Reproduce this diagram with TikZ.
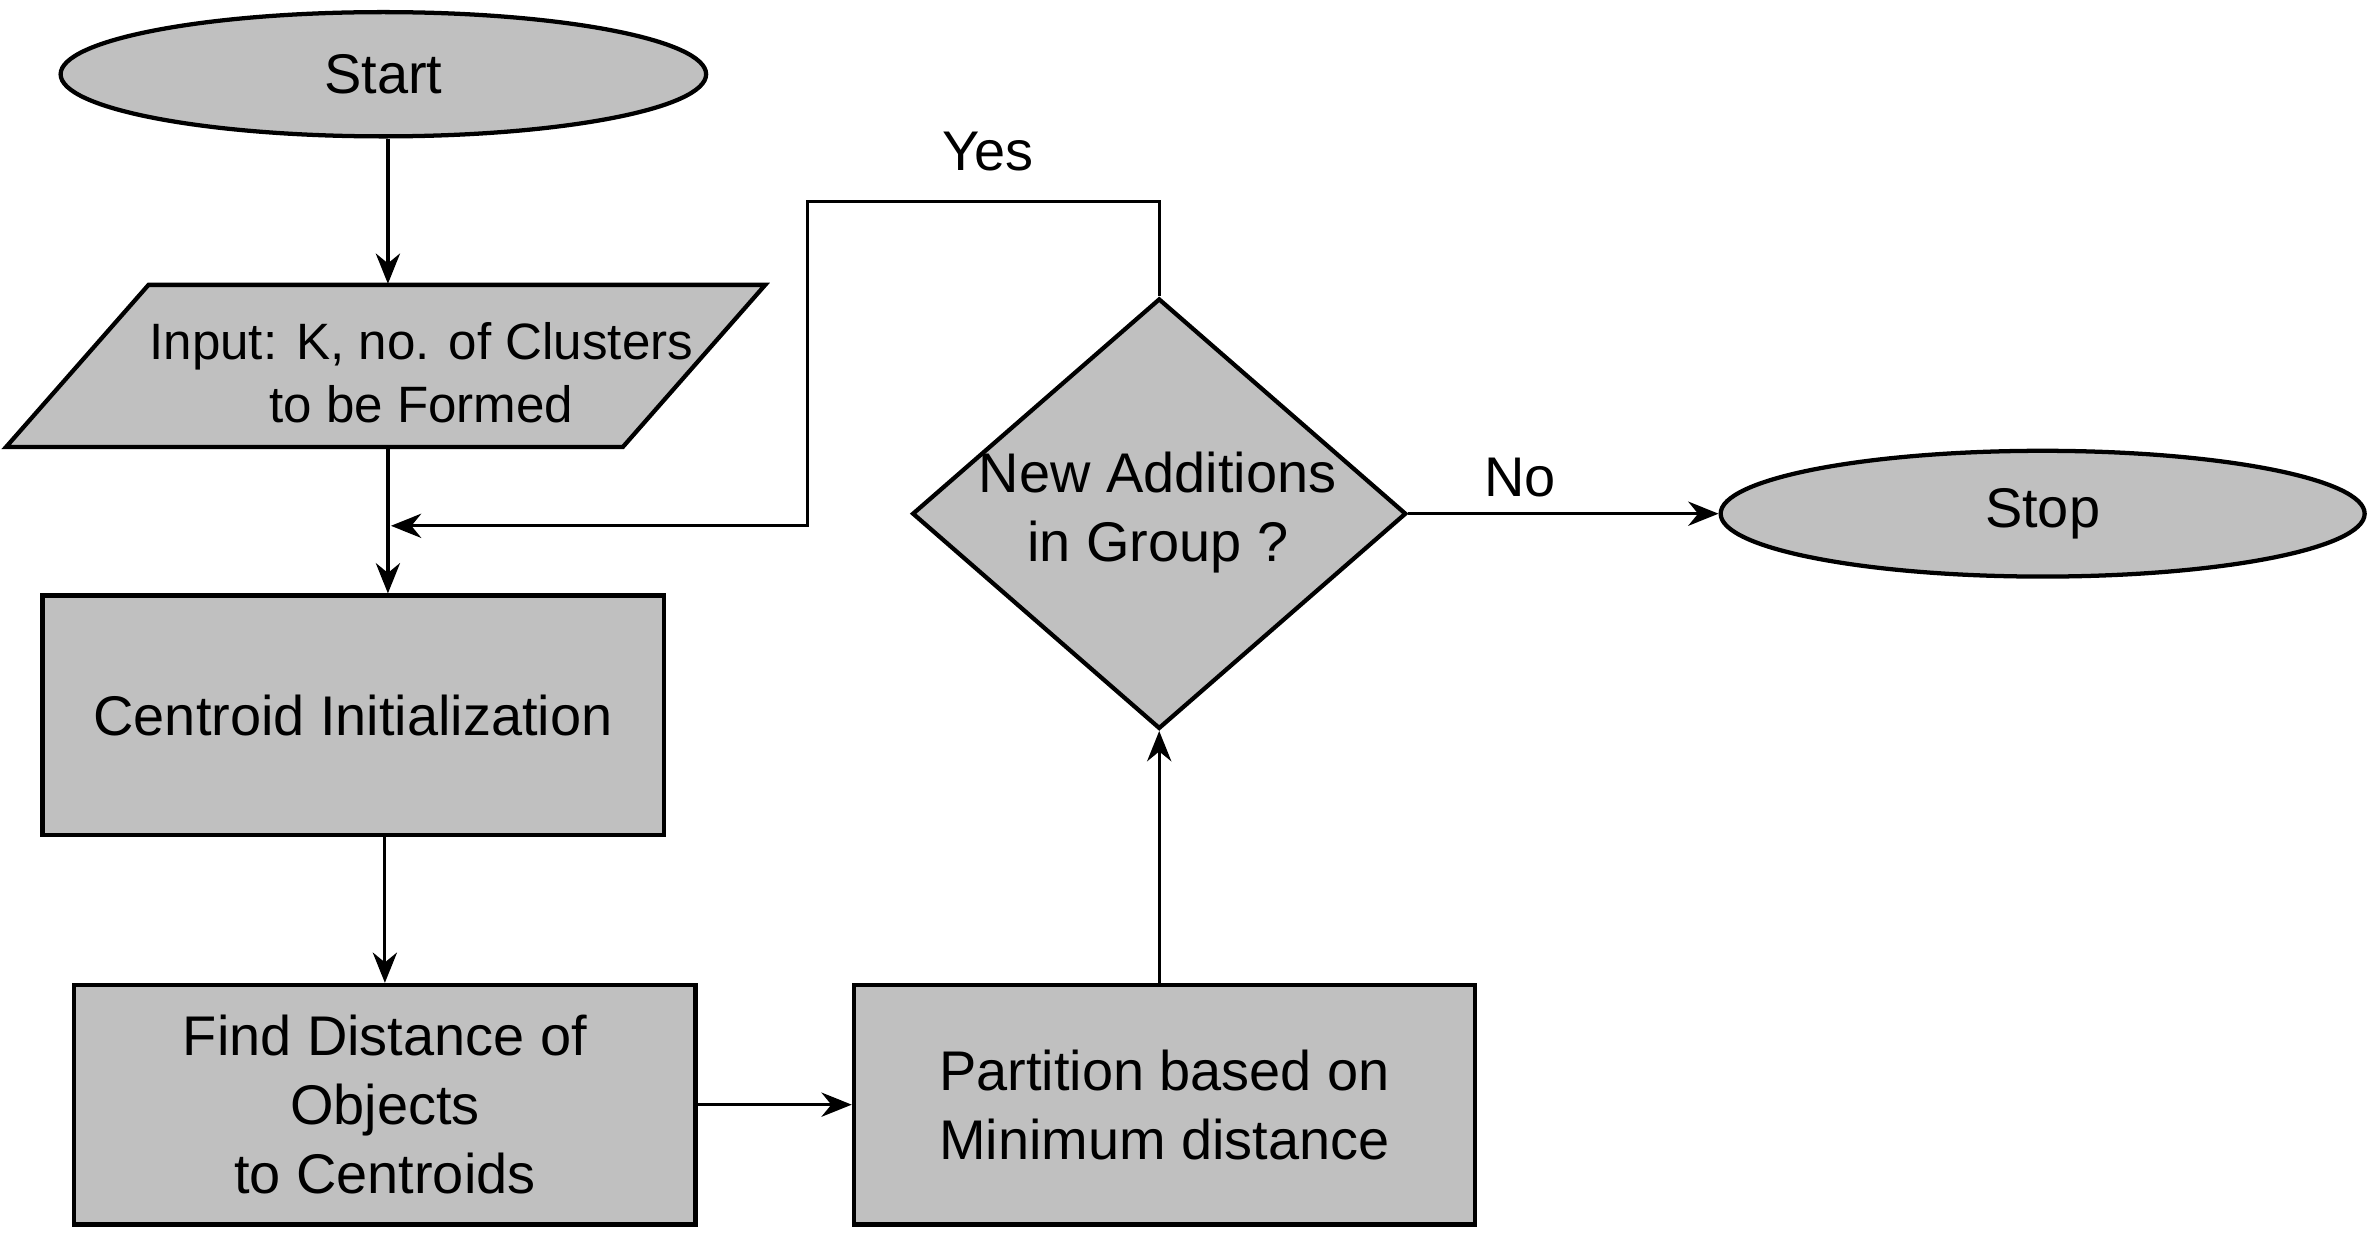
\documentclass[tikz,border=0pt]{standalone}
\usepackage{fontspec}
\setmainfont{Liberation Sans}
\usetikzlibrary{positioning, arrows.meta, shapes.geometric}
\definecolor{boxgray}{RGB}{192, 192, 192}

\begin{document}
\begin{tikzpicture}[
        font=\fontsize{10.5}{13}\selectfont,
        term/.style={ellipse, draw, fill=boxgray, line width=0.8pt,
                     minimum width=4.26cm, minimum height=0.82cm, inner sep=0pt},
        slant/.style={draw, fill=boxgray, line width=0.8pt, line join=miter},
        slot/.style={minimum width=0pt, minimum height=1.07cm, inner sep=0pt},
        proc/.style={rectangle, draw, fill=boxgray, line width=0.8pt, align=center,
                     minimum width=4.1cm, minimum height=1.58cm, inner sep=0pt},
        ask/.style={diamond, draw, fill=boxgray, line width=0.8pt,
                    minimum width=3.26cm, minimum height=2.84cm, inner sep=0pt},
        txt/.style={align=center, inner sep=0pt},
        arr/.style={-{Stealth[length=2mm, width=1.6mm]}, line width=0.6pt}
    ]

    \useasboundingbox (0, 0) rectangle (15.68, -8.20);

    \node[term] (start) at (2.53, -0.49) {Start};
    \draw[slant] (0.98, -1.88) -- (5.05, -1.88) -- (4.11, -2.95) -- (0.04, -2.95) -- cycle;
    \node[slot] (inp) at (2.56, -2.415) {};
    \node[txt, font=\fontsize{9.6}{12}\selectfont] (inptext) at (2.78, -2.46)
        {Input: K, no. of Clusters\\to be Formed};
    \node[proc] (init) at (2.33, -4.72) {Centroid Initialization};
    \node[proc] (find) at (2.54, -7.29) {Find Distance of\\Objects\\to Centroids};
    \node[proc] (part) at (7.685, -7.29) {Partition based on\\Minimum distance};
    \node[ask] (chk) at (7.65, -3.39) {};
    \node[txt] (chktext) at (7.64, -3.38) {New Additions\\in Group ?};
    \node[term, minimum width=4.25cm, minimum height=0.83cm] (stop) at (13.48, -3.39) {Stop};

    \node[txt] (yes) at (6.52, -1.00) {Yes};
    \node[txt] (no) at (10.03, -3.15) {No};

    \coordinate (yesleft) at (5.33, -1.33);
    \coordinate (merge) at (2.58, -3.47);

    \draw[arr] (start.south -| inp.north) -- (inp.north);
    \draw[arr] (inp.south) -- (inp.south |- init.north);
    \draw[arr] (find.north |- init.south) -- (find.north);
    \draw[arr] (find) -- (part);
    \draw[arr] (chk.south |- part.north) -- (chk.south);
    \draw[arr] (chk) -- (stop);
    \draw[arr] (chk.north) |- (yesleft) |- (merge);

\end{tikzpicture}
\end{document}
